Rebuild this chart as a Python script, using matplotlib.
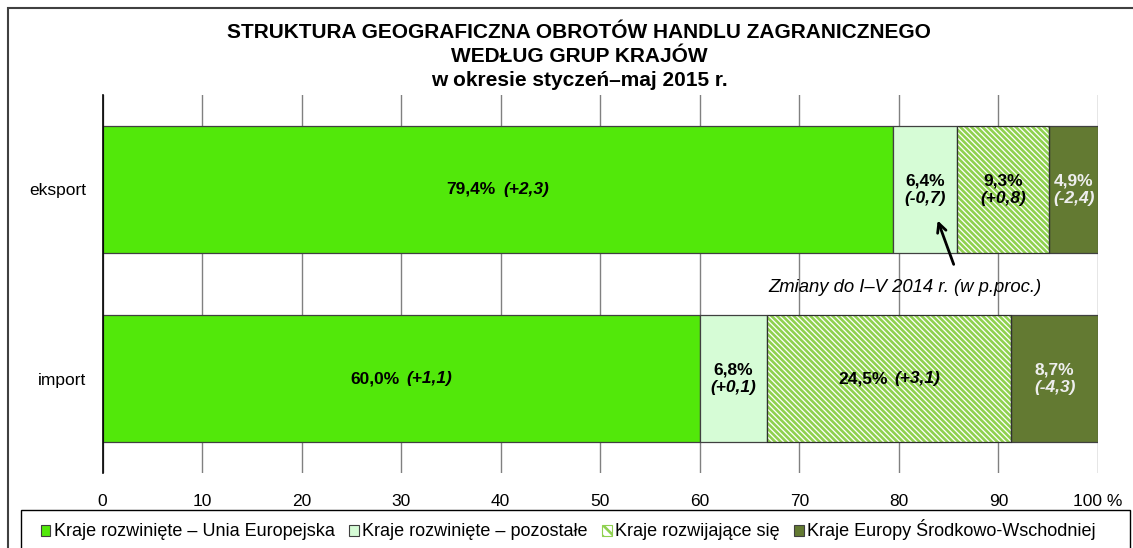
import matplotlib
matplotlib.use("Agg")
import matplotlib.pyplot as plt
from matplotlib.patches import Rectangle
from matplotlib.offsetbox import TextArea, HPacker, VPacker, AnnotationBbox

plt.rcParams['font.family'] = ['Liberation Sans', 'DejaVu Sans']
plt.rcParams['hatch.linewidth'] = 1.9

# data
categories = ['eksport', 'import']
groups = ['Kraje rozwinięte – Unia Europejska', 'Kraje rozwinięte – pozostałe',
          'Kraje rozwijające się', 'Kraje Europy Środkowo-Wschodniej']
eksport_share = [79.4, 6.4, 9.3, 4.9]
import_share = [60.0, 6.8, 24.5, 8.7]
eksport_change = ['+2,3', '-0,7', '+0,8', '-2,4']
import_change = ['+1,1', '+0,1', '+3,1', '-4,3']
xticks = [0, 10, 20, 30, 40, 50, 60, 70, 80, 90, 100]
xtick_labels = ['0', '10', '20', '30', '40', '50', '60', '70', '80', '90', '100 %']

face_colors = ['#52E80A', '#D6FCD6', 'white', '#637A32']
hatch_color = '#8FD14F'
text_colors = ['black', 'black', 'black', '#EEEEEE']
HATCH = '\\' * 6

W, H = 1133, 548
fig = plt.figure(figsize=(W / 100, H / 100), dpi=100)
ax = fig.add_axes([102.5 / W, 1 - 473 / H, (1098 - 102.5) / W, (473 - 95) / H])

# outer frame and legend frame
fig.add_artist(Rectangle((8 / W, -0.1), 1.2, 1 - 8 / H + 0.1, transform=fig.transFigure,
                         fill=False, edgecolor='#404040', lw=1.5))
fig.add_artist(Rectangle((21 / W, -0.1), (1130 - 21) / W, 0.1 + 1 - 510 / H,
                         transform=fig.transFigure, facecolor='white',
                         edgecolor='black', lw=1.0))

ypos = {'eksport': 1, 'import': 0}
rows = [('eksport', eksport_share, eksport_change), ('import', import_share, import_change)]
bar_h = 0.67
lab_fs = 12.5

def fmt(v):
    return f"{v:.1f}".replace('.', ',') + '%'

for cat, shares, changes in rows:
    y = ypos[cat]
    left = 0
    for i, (v, ch) in enumerate(zip(shares, changes)):
        if i == 2:
            ax.barh(y, v, left=left, height=bar_h, color='white', edgecolor=hatch_color,
                    hatch=HATCH, lw=0, zorder=2)
            ax.barh(y, v, left=left, height=bar_h, fill=False, edgecolor='#303030',
                    lw=0.9, zorder=3)
        else:
            ax.barh(y, v, left=left, height=bar_h, color=face_colors[i],
                    edgecolor='#404040', lw=0.9, zorder=2)
        col = text_colors[i]
        t1 = TextArea(fmt(v), textprops=dict(fontsize=lab_fs, fontweight='bold', color=col))
        t2 = TextArea(f"({ch})", textprops=dict(fontsize=lab_fs, fontweight='bold',
                                                 style='italic', color=col))
        if v < 15:
            box = VPacker(children=[t1, t2], align='center', pad=0, sep=2)
        else:
            box = HPacker(children=[t1, t2], align='baseline', pad=0, sep=5)
        ab = AnnotationBbox(box, (left + v / 2, y), xycoords='data', frameon=False,
                            box_alignment=(0.5, 0.5), zorder=5)
        ax.add_artist(ab)
        left += v

ax.set_xlim(0, 100)
ax.set_ylim(-0.5, 1.5)
ax.set_xticks(xticks)
ax.set_xticklabels(xtick_labels, fontsize=12.5)
ax.set_yticks([ypos[c] for c in categories])
ax.set_yticklabels(categories, fontsize=12.5)
ax.tick_params(axis='x', length=0, pad=15)
ax.tick_params(axis='y', length=0, pad=12)
ax.grid(axis='x', color='#808080', lw=1.0, zorder=0)
ax.set_axisbelow(True)
for s in ['top', 'right', 'bottom']:
    ax.spines[s].set_visible(False)
ax.spines['left'].set_color('black')
ax.spines['left'].set_linewidth(1.2)

# annotation
ax.text(80.6, 0.484, 'Zmiany do I–V 2014 r. (w p.proc.)', ha='center', va='center',
        fontsize=13.3, style='italic', zorder=6)
ax.annotate('', xy=(83.8, 0.85), xytext=(85.6, 0.59),
            arrowprops=dict(arrowstyle='->', lw=2, color='black', mutation_scale=16),
            zorder=6)

# title
tx = 579 / W
title_lines = ['STRUKTURA GEOGRAFICZNA OBROTÓW HANDLU ZAGRANICZNEGO',
               'WEDŁUG GRUP KRAJÓW', 'w okresie styczeń–maj 2015 r.']
for line, py in zip(title_lines, [32, 56, 80]):
    fig.text(tx, 1 - py / H, line, ha='center', va='center', fontsize=15,
             fontweight='bold')

# legend
handles = []
for i, g in enumerate(groups):
    if i == 2:
        h = Rectangle((0, 0), 1, 1, facecolor='white', edgecolor=hatch_color,
                      hatch='\\\\\\', lw=0.8)
    else:
        h = Rectangle((0, 0), 1, 1, facecolor=face_colors[i], edgecolor='#404040', lw=0.8)
    handles.append(h)
fig.legend(handles, groups, loc='center', bbox_to_anchor=(568 / W, 1 - 530 / H),
           ncol=4, frameon=False, fontsize=13, handlelength=0.55, handleheight=0.55,
           handletextpad=0.17, columnspacing=0.8, borderpad=0)

fig.savefig('out.png', dpi=100)
